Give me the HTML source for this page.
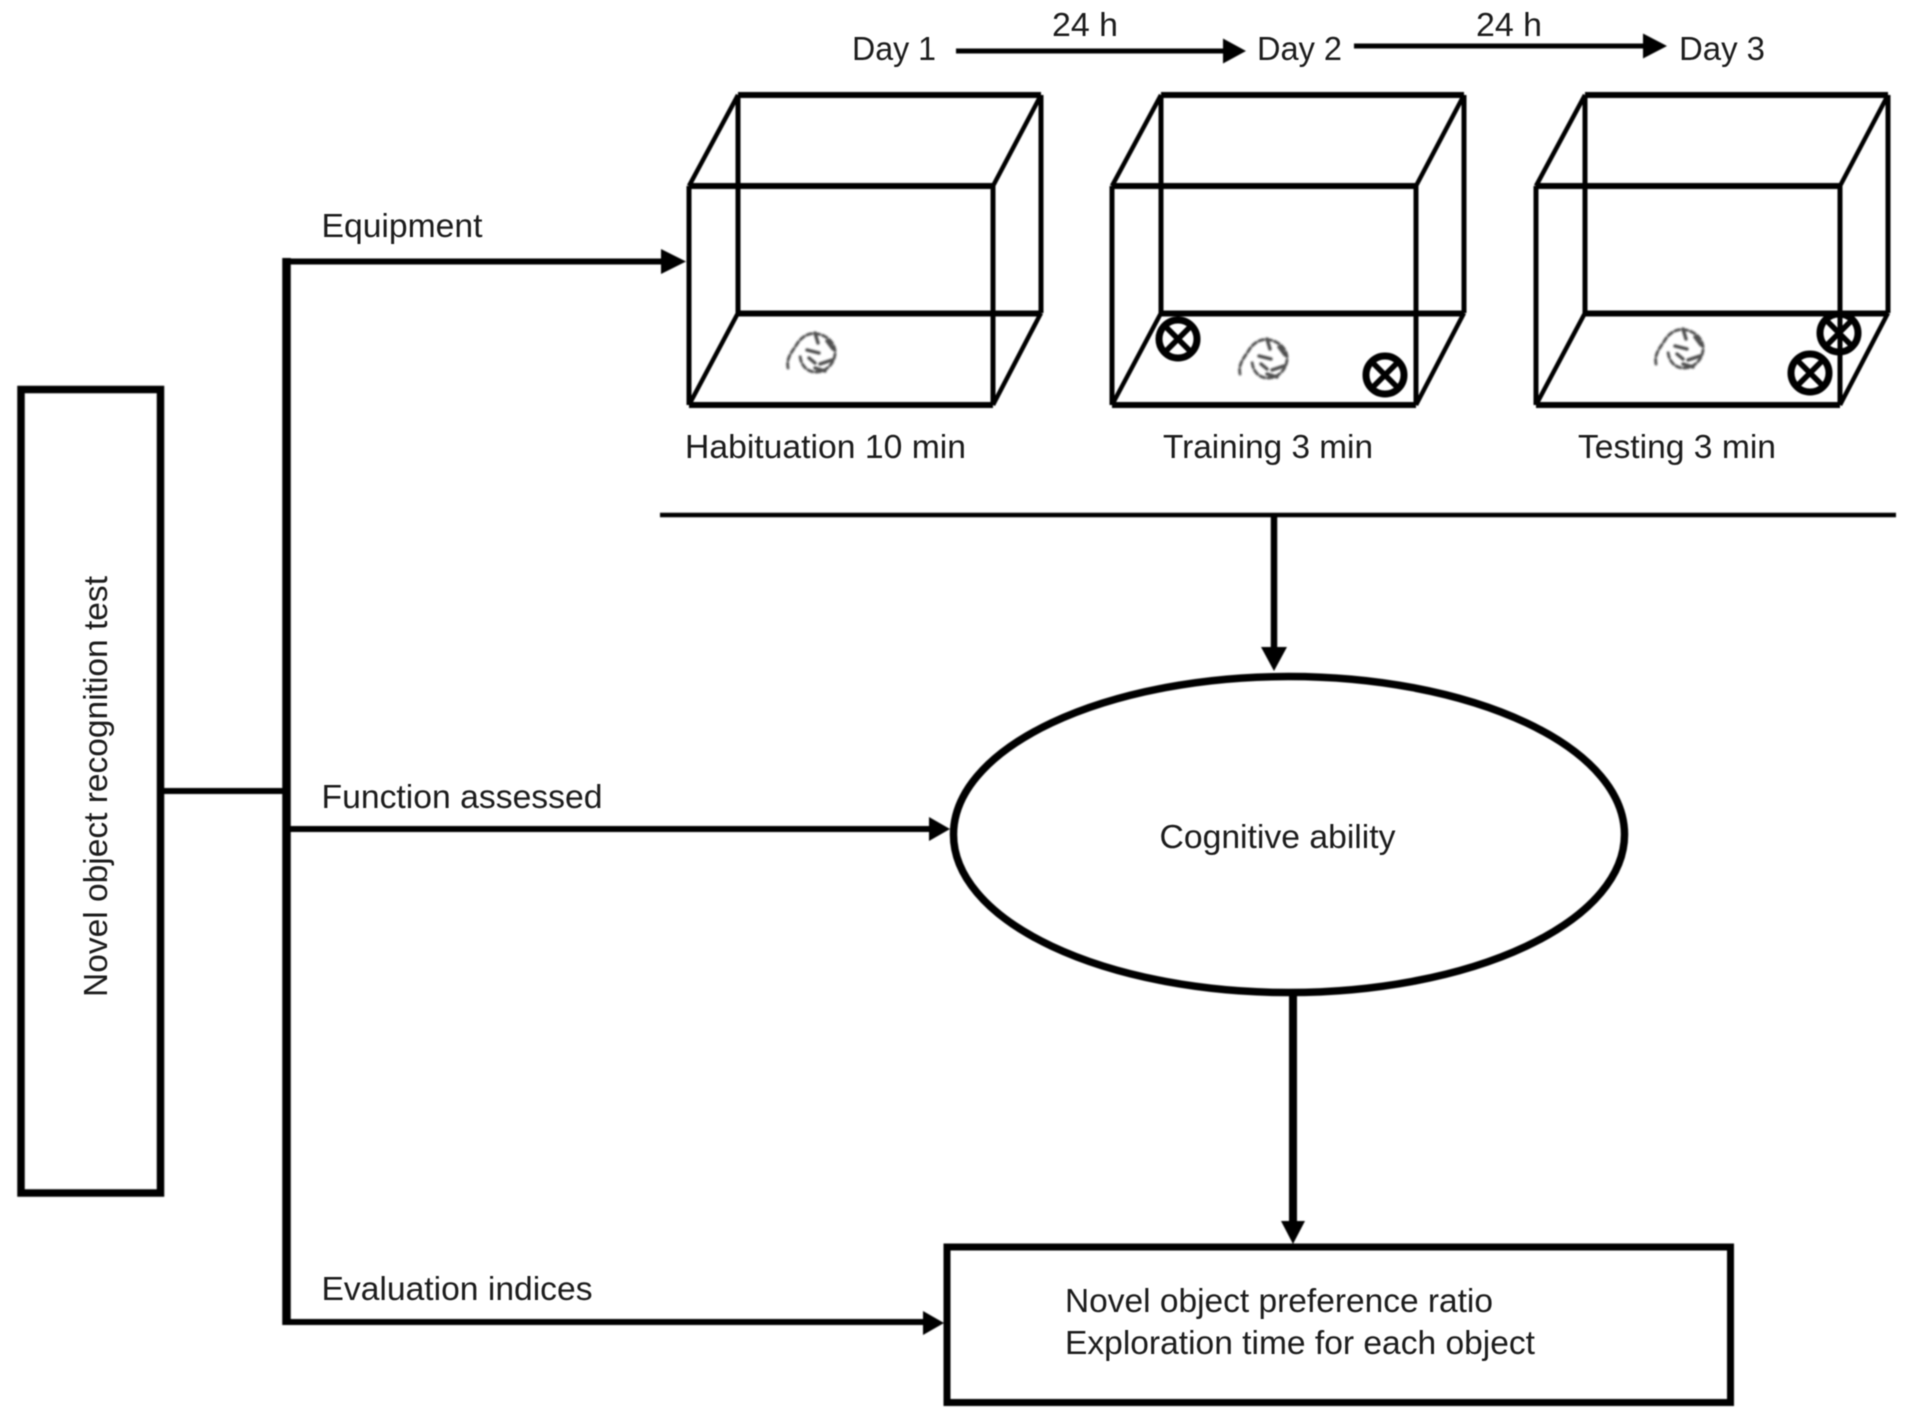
<!DOCTYPE html>
<html><head><meta charset="utf-8"><style>html,body{margin:0;padding:0;background:#fff}svg{display:block}text{font-family:"Liberation Sans",sans-serif;font-size:33px;fill:#1c1c1c}</style></head><body>
<svg width="1913" height="1423" viewBox="0 0 1913 1423" xmlns="http://www.w3.org/2000/svg">
<defs>
<filter id="b" x="-5%" y="-5%" width="110%" height="110%"><feGaussianBlur stdDeviation="0.7"/></filter>
<filter id="t" x="-5%" y="-20%" width="110%" height="140%"><feGaussianBlur stdDeviation="0.45"/></filter>
<filter id="r" x="-30%" y="-30%" width="160%" height="160%"><feGaussianBlur stdDeviation="1"/></filter>
<g id="box" fill="none" stroke="#000" stroke-width="5">
<path d="M689 186H993M689 405H993M738 95H1041M738 313.500H1041" stroke-width="6"/>
<path d="M689 186V405M993 186V405M738 95V313M1041 95V313"/>
<path d="M689 186L738 95M993 186L1041 95M689 405L738 313M993 405L1041 313" stroke-width="4.500"/>
</g>
<g id="obj" fill="none" stroke="#000">
<circle r="19" stroke-width="7"/>
<path d="M-12 -12L12 12M12 -12L-12 12" stroke-width="5.500"/>
</g>
<g id="rat" fill="none" stroke="#222" stroke-linecap="round">
<path d="M-24 16C-26 6-20 0-15-8C-10-16 -2-20 6-18C16-16 24-8 23 2C22 12 14 20 4 20C-6 20 -12 12 -12 2" stroke-width="2.800" stroke-dasharray="5 3"/>
<path d="M3-19L6-9M-5-2L7 1M15-11L21-3M8 12L20 8M3 16L13 19M-3 6L3 11" stroke-width="3.400"/>
</g>
</defs>
<rect width="1913" height="1423" fill="#fff"/>
<g filter="url(#b)">
<rect x="21" y="389.500" width="139.500" height="803.500" fill="none" stroke="#000" stroke-width="7.500"/>
<path d="M164 791H284" stroke="#000" stroke-width="6"/>
<path d="M286.500 258V1325" stroke="#000" stroke-width="8.500"/>
<path d="M286 261.500H662M286 829H931M286 1322H925" stroke="#000" stroke-width="6"/>
<path d="M686 261.500L661 249V274Z M950 829L929 817V841Z M944 1323L923 1311V1335Z"/>
<path d="M956 51H1225M1354 46H1645" stroke="#000" stroke-width="5"/>
<path d="M1246 51L1223 38.500V63.500Z M1667 46L1643 33.500V58.500Z"/>
<use href="#box"/>
<use href="#box" x="423"/>
<use href="#box" x="847"/>
<use href="#obj" x="1184" y="341" transform="translate(-6 -2)"/>
<use href="#obj" x="1391" y="377" transform="translate(-6 -2)"/>
<use href="#obj" x="1849" y="335" transform="translate(-10 -2)"/>
<use href="#obj" x="1820" y="375" transform="translate(-10 -2)"/>
<path d="M660 515H1905" stroke="#000" stroke-width="4.500" transform="translate(0 0)" stroke-dasharray="1236 20"/>
<path d="M1274 517V650" stroke="#000" stroke-width="6.500"/>
<path d="M1274 671L1261 647H1287Z"/>
<ellipse cx="1289" cy="834.500" rx="335.500" ry="158" fill="none" stroke="#000" stroke-width="7.500"/>
<path d="M1293 994V1224" stroke="#000" stroke-width="8"/>
<path d="M1293 1244L1281 1221H1305Z"/>
<rect x="947" y="1247" width="783.500" height="155.500" fill="none" stroke="#000" stroke-width="7"/>
</g>
<g filter="url(#r)" opacity=".8">
<use href="#rat" x="812" y="352"/>
<use href="#rat" x="1264" y="358"/>
<use href="#rat" x="1680" y="348"/>
</g>
<g filter="url(#t)">
<text x="852" y="60" textLength="84" lengthAdjust="spacingAndGlyphs">Day 1</text>
<text x="1257" y="60" textLength="85" lengthAdjust="spacingAndGlyphs">Day 2</text>
<text x="1679" y="60" textLength="86" lengthAdjust="spacingAndGlyphs">Day 3</text>
<text x="1052" y="36" textLength="66" lengthAdjust="spacingAndGlyphs">24 h</text>
<text x="1476" y="36" textLength="66" lengthAdjust="spacingAndGlyphs">24 h</text>
<text x="685" y="458" textLength="281" lengthAdjust="spacingAndGlyphs">Habituation 10 min</text>
<text x="1163" y="458" textLength="210" lengthAdjust="spacingAndGlyphs">Training 3 min</text>
<text x="1578" y="458" textLength="198" lengthAdjust="spacingAndGlyphs">Testing 3 min</text>
<text x="321.500" y="237" textLength="161" lengthAdjust="spacingAndGlyphs">Equipment</text>
<text x="321.500" y="808" textLength="281" lengthAdjust="spacingAndGlyphs">Function assessed</text>
<text x="321.500" y="1300" textLength="271" lengthAdjust="spacingAndGlyphs">Evaluation indices</text>
<text x="1159.500" y="848" textLength="236" lengthAdjust="spacingAndGlyphs">Cognitive ability</text>
<text x="1065" y="1312" textLength="428" lengthAdjust="spacingAndGlyphs">Novel object preference ratio</text>
<text x="1065" y="1354" textLength="470" lengthAdjust="spacingAndGlyphs">Exploration time for each object</text>
<text transform="translate(107 997) rotate(-90)" textLength="421" lengthAdjust="spacingAndGlyphs">Novel object recognition test</text>
</g>
</svg>
</body></html>
